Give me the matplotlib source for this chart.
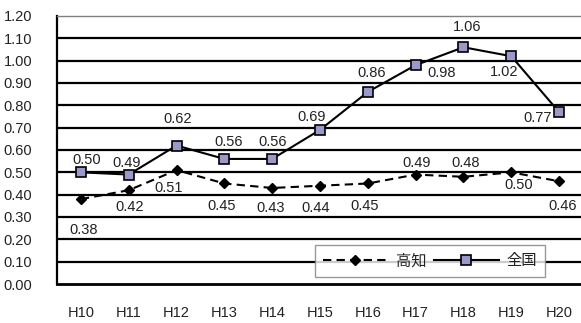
import matplotlib
matplotlib.use("Agg")
import matplotlib.pyplot as plt

plt.rcParams['font.family'] = ['Liberation Sans', 'Noto Sans CJK JP', 'DejaVu Sans']

years = ["H10", "H11", "H12", "H13", "H14", "H15", "H16", "H17", "H18", "H19", "H20"]
kochi = [0.38, 0.42, 0.51, 0.45, 0.43, 0.44, 0.45, 0.49, 0.48, 0.50, 0.46]
zenkoku = [0.50, 0.49, 0.62, 0.56, 0.56, 0.69, 0.86, 0.98, 1.06, 1.02, 0.77]
yticks = [0.0, 0.1, 0.2, 0.3, 0.4, 0.5, 0.6, 0.7, 0.8, 0.9, 1.0, 1.1, 1.2]

# label offsets in pixels (dx, dy) with dy positive = up
kochi_off = [(3, -31), (1, -17), (-8, -18), (-3, -23), (-2, -20), (-4, -22),
             (-3, -23), (1, 12), (2, 14), (7, -13), (4, -25)]
zen_off = [(6, 12), (-2, 12), (1, 27), (4, 17), (0, 17), (-8, 13),
           (4, 19), (26, -8), (4, 20), (-7, -16), (-21, -6)]

W, H = 581, 323
fig = plt.figure(figsize=(W / 100, H / 100), dpi=100)
ax = fig.add_axes([57 / W, (H - 284) / H, (583 - 57) / W, 268 / H])

x = list(range(len(years)))
ax.set_xlim(-0.5, len(years) - 0.5)
ax.set_ylim(0, 1.2)

for v in yticks[1:-1]:
    ax.axhline(v, color='black', lw=1.6, zorder=1)

ax.plot(x, kochi, color='black', lw=1.5, ls=(0, (4, 2.5)), marker='D',
        markersize=5, markerfacecolor='black', markeredgecolor='black',
        label='高知', zorder=3)
ax.plot(x, zenkoku, color='black', lw=1.5, marker='s', markersize=6.5,
        markerfacecolor='#9999cc', markeredgecolor='black', markeredgewidth=1.2,
        label='全国', zorder=4)

for xi, v, (dx, dy) in zip(x, kochi, kochi_off):
    ax.annotate(f"{v:.2f}", (xi, v), xytext=(dx, dy), textcoords='offset pixels',
                ha='center', va='center', fontsize=10.5, color='#222222', zorder=2)
for xi, v, (dx, dy) in zip(x, zenkoku, zen_off):
    ax.annotate(f"{v:.2f}", (xi, v), xytext=(dx, dy), textcoords='offset pixels',
                ha='center', va='center', fontsize=10.5, color='#222222', zorder=2)

ax.set_yticks(yticks)
ax.set_yticklabels([f"{v:.2f}" for v in yticks], fontsize=10.5, color='#222222')
ax.set_xticks(x)
ax.set_xticklabels(years, fontsize=10.5, color='#222222')
ax.tick_params(axis='y', length=0, pad=18)
ax.tick_params(axis='x', length=0, pad=16)

ax.spines['right'].set_visible(False)
ax.spines['top'].set_color('#808080')
ax.spines['top'].set_linewidth(1.0)
ax.spines['left'].set_color('black')
ax.spines['left'].set_linewidth(1.6)
ax.spines['bottom'].set_color('black')
ax.spines['bottom'].set_linewidth(2.0)

leg = ax.legend(loc='lower left', bbox_to_anchor=((315 - 57) / 526, (284 - 277) / 268,
                                                   (545 - 315) / 526, (277 - 239) / 268),
                mode='expand', ncol=2, frameon=True, fancybox=False, fontsize=11,
                handlelength=4.3, borderpad=0.5, columnspacing=0.8, handletextpad=0.5,
                borderaxespad=0)
leg.get_frame().set_edgecolor('#808080')
leg.get_frame().set_linewidth(1.0)
leg.set_zorder(6)
for t in leg.get_texts():
    t.set_family(['Noto Sans CJK JP', 'DejaVu Sans'])
    t.set_color('#222222')

fig.savefig('out.png', dpi=100)
